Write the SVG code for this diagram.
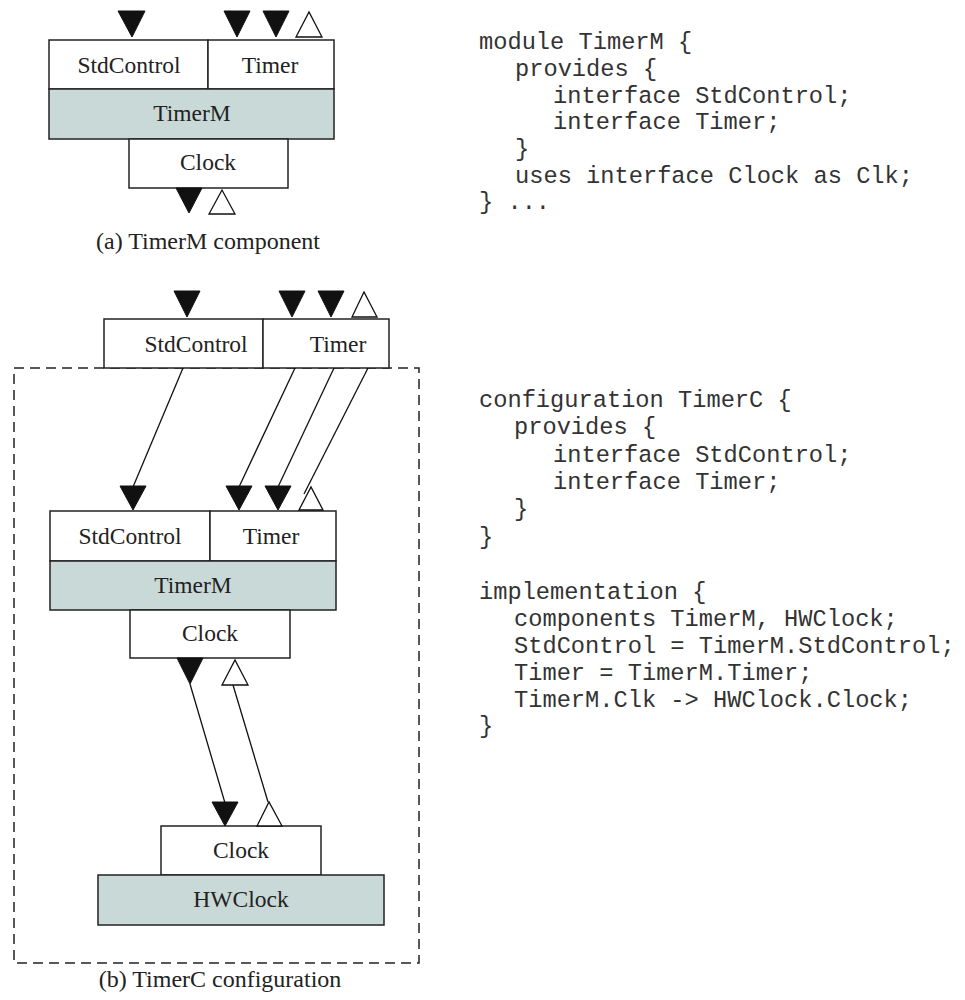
<svg xmlns="http://www.w3.org/2000/svg" width="965" height="1000" viewBox="0 0 965 1000">
<style>
.box{fill:#ffffff;stroke:#222;stroke-width:1.5}
.gray{fill:#c9d9d7;stroke:#222;stroke-width:1.5}
.lbl{font-family:"Liberation Serif","Times New Roman",serif;font-size:23.5px;fill:#222;text-anchor:middle}
.cap{font-family:"Liberation Serif","Times New Roman",serif;font-size:24px;fill:#222;text-anchor:middle}
.code{font-family:"Liberation Mono","Courier New",monospace;font-size:23.7px;fill:#333}
.fill{fill:#111;stroke:#111;stroke-width:1}
.hollow{fill:#fff;stroke:#111;stroke-width:1.3}
.wire{stroke:#111;stroke-width:1.3;fill:none}
.dash{fill:none;stroke:#222;stroke-width:1.5;stroke-dasharray:10,6}
</style>
<rect x="0" y="0" width="965" height="1000" fill="#fff"/>

<!-- (a) TimerM component -->
<g id="a-timerm">
<rect class="box" x="49" y="40" width="159" height="49"/>
<text class="lbl" x="129" y="73">StdControl</text>
<rect class="box" x="208" y="40" width="126" height="49"/>
<text class="lbl" x="270" y="73">Timer</text>
<rect class="gray" x="49" y="89" width="285" height="50"/>
<text class="lbl" x="192" y="121">TimerM</text>
<rect class="box" x="129" y="139" width="159" height="49"/>
<text class="lbl" x="208" y="170">Clock</text>
<polygon class="fill" points="118,11 145,11 132,37"/>
<polygon class="fill" points="224,11 250,11 237,37"/>
<polygon class="fill" points="263,11 289,11 276,37"/>
<polygon class="hollow" points="296,37 322,37 309,12"/>
<polygon class="fill" points="176,188 202,188 189,213"/>
<polygon class="hollow" points="209,214 235,214 222,190"/>
</g>
<text class="cap" x="208" y="249">(a) TimerM component</text>

<!-- code top -->
<g id="code-module">
<text class="code" x="479" y="49">module TimerM {</text>
<text class="code" x="515" y="76">provides {</text>
<text class="code" x="553" y="103">interface StdControl;</text>
<text class="code" x="553" y="129">interface Timer;</text>
<text class="code" x="515" y="156">}</text>
<text class="code" x="515" y="183">uses interface Clock as Clk;</text>
<text class="code" x="479" y="209">} ...</text>
</g>

<!-- (b) TimerC configuration -->
<rect id="timerc-boundary" class="dash" x="14" y="368" width="405" height="595"/>

<g id="b-timerc">
<rect class="box" x="104" y="319" width="159" height="49"/>
<text class="lbl" x="196" y="352">StdControl</text>
<rect class="box" x="263" y="319" width="126" height="49"/>
<text class="lbl" x="338" y="352">Timer</text>
<polygon class="fill" points="174,291 200,291 187,317"/>
<polygon class="fill" points="279,291 305,291 292,317"/>
<polygon class="fill" points="318,291 344,291 331,317"/>
<polygon class="hollow" points="352,317 377,317 364,292"/>
</g>

<g id="b-timerm">
<rect class="box" x="50" y="511" width="160" height="50"/>
<text class="lbl" x="130" y="544">StdControl</text>
<rect class="box" x="210" y="511" width="126" height="50"/>
<text class="lbl" x="271" y="544">Timer</text>
<rect class="gray" x="50" y="561" width="286" height="49"/>
<text class="lbl" x="193" y="593">TimerM</text>
<rect class="box" x="130" y="610" width="160" height="48"/>
<text class="lbl" x="210" y="641">Clock</text>
</g>

<g id="b-hwclock">
<rect class="box" x="161" y="826" width="160" height="49"/>
<text class="lbl" x="241" y="858">Clock</text>
<rect class="gray" x="98" y="875" width="286" height="50"/>
<text class="lbl" x="241" y="907">HWClock</text>
</g>

<g id="connectors">
<line class="wire" x1="183" y1="368" x2="133" y2="487"/>
<polygon class="fill" points="120,486 146,486 133,510"/>
<line class="wire" x1="295" y1="368" x2="239" y2="487"/>
<polygon class="fill" points="226,486 252,486 239,510"/>
<line class="wire" x1="334" y1="368" x2="278" y2="487"/>
<polygon class="fill" points="265,486 291,486 278,510"/>
<line class="wire" x1="368" y1="368" x2="304" y2="494"/>
<polygon class="hollow" points="299,510 323,510 311,487"/>

<polygon class="fill" points="177,658 203,658 190,684"/>
<line class="wire" x1="190" y1="684" x2="225" y2="803"/>
<polygon class="fill" points="212,802 238,802 225,826"/>
<polygon class="hollow" points="222,685 248,685 235,660"/>
<line class="wire" x1="233" y1="685" x2="268" y2="802"/>
<polygon class="hollow" points="257,826 282,826 269,802"/>
</g>
<text class="cap" x="220" y="987">(b) TimerC configuration</text>

<g id="code-config">
<text class="code" x="479" y="407">configuration TimerC {</text>
<text class="code" x="514" y="434">provides {</text>
<text class="code" x="553" y="462">interface StdControl;</text>
<text class="code" x="553" y="489">interface Timer;</text>
<text class="code" x="514" y="516">}</text>
<text class="code" x="479" y="544">}</text>
<text class="code" x="479" y="599">implementation {</text>
<text class="code" x="514" y="626">components TimerM, HWClock;</text>
<text class="code" x="514" y="653">StdControl = TimerM.StdControl;</text>
<text class="code" x="514" y="680">Timer = TimerM.Timer;</text>
<text class="code" x="514" y="707">TimerM.Clk -&gt; HWClock.Clock;</text>
<text class="code" x="479" y="733">}</text>
</g>
</svg>
